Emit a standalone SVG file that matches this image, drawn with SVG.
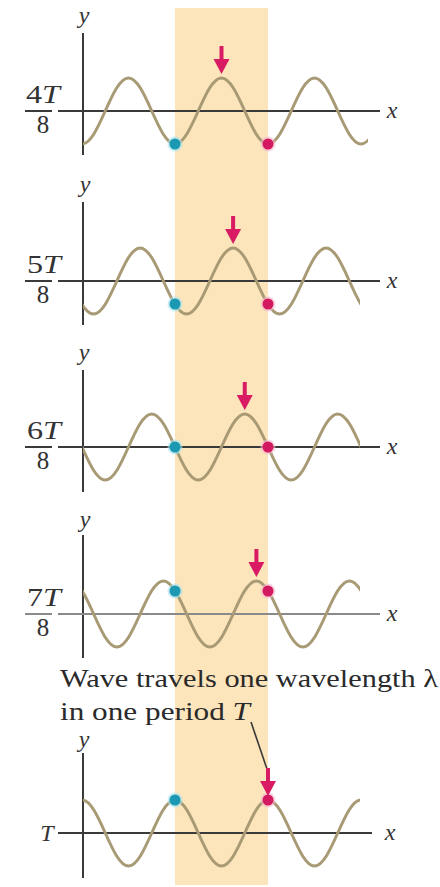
<svg xmlns="http://www.w3.org/2000/svg" xmlns:xlink="http://www.w3.org/1999/xlink" width="440" height="887" viewBox="0 0 440 887">
<style>
.axis{stroke:#3a3a3a;stroke-width:2;fill:none}
.axisg{stroke:#8a8a8a;stroke-width:2;fill:none}
.wave{stroke:#a89a74;stroke-width:3;fill:none}
.lbl{font-family:"Liberation Serif","Times New Roman",Times,serif;font-style:italic;font-size:24px;fill:#333}
.num{font-family:"Liberation Serif","Times New Roman",Times,serif;font-size:25px;fill:#333}
.cap{font-family:"Liberation Serif","Times New Roman",Times,serif;font-size:26px;fill:#2a2a2a}
.bg{fill:#f5b7cf;opacity:0.6}
.bb{fill:#a3e3ef;opacity:0.6}
.blue{fill:#1b98b2}
.pink{fill:#d3195f}
.arr{fill:#d81b62}
</style>
<defs>
<path id="wave" d="M -186 33 C -169.1 33 -156.4 -33 -139.5 -33 S -109.9 33 -93 33 S -63.4 -33 -46.5 -33 S -16.9 33 0 33 S 29.6 -33 46.5 -33 S 76.1 33 93 33 S 122.6 -33 139.5 -33 S 169.1 33 186 33 S 215.6 -33 232.5 -33 S 262.1 33 279 33 S 308.6 -33 325.5 -33 S 355.1 33 372 33 S 401.6 -33 418.5 -33 S 448.1 33 465 33"/>
<g id="arrow">
<rect x="-2" y="-28" width="4" height="16" class="arr"/>
<path d="M -8 -15 L 8 -15 L 0 0 Z" class="arr"/>
</g>
<clipPath id="c1" clipPathUnits="userSpaceOnUse"><rect x="83" y="0" width="285" height="887"/></clipPath>
<clipPath id="c2" clipPathUnits="userSpaceOnUse"><rect x="83" y="0" width="277" height="887"/></clipPath>
</defs>
<rect width="440" height="887" fill="#ffffff"/>
<rect id="band" x="175" y="8" width="93" height="877" fill="#fce4bb"/>

<g id="panel-1">
<line class="axis" x1="83" y1="33" x2="83" y2="155"/>
<line class="axis" x1="58" y1="111" x2="380" y2="111"/>
<line class="axis" x1="25" y1="111" x2="52" y2="111"/>
<g clip-path="url(#c1)"><use xlink:href="#wave" href="#wave" class="wave" transform="translate(175,111)"/></g>
<circle class="bb" cx="175" cy="144" r="7.5"/><circle class="blue" cx="175" cy="144" r="5.5"/>
<circle class="bg" cx="268" cy="144" r="7.5"/><circle class="pink" cx="268" cy="144" r="5.5"/>
<use xlink:href="#arrow" href="#arrow" transform="translate(221.5,74)"/>
<text class="lbl" x="84" y="23" text-anchor="middle">y</text>
<text class="lbl" x="392" y="118" text-anchor="middle">x</text>
<text class="num" x="26" y="103" textLength="34" lengthAdjust="spacingAndGlyphs">4<tspan font-style="italic">T</tspan></text>
<text class="num" x="43" y="133" text-anchor="middle">8</text>
</g>

<g id="panel-2">
<line class="axis" x1="83" y1="202" x2="83" y2="325"/>
<line class="axis" x1="58" y1="281" x2="380" y2="281"/>
<line class="axis" x1="25" y1="281" x2="52" y2="281"/>
<g clip-path="url(#c2)"><use xlink:href="#wave" href="#wave" class="wave" transform="translate(186.6,281)"/></g>
<circle class="bb" cx="175" cy="304" r="7.5"/><circle class="blue" cx="175" cy="304" r="5.5"/>
<circle class="bg" cx="268" cy="304" r="7.5"/><circle class="pink" cx="268" cy="304" r="5.5"/>
<use xlink:href="#arrow" href="#arrow" transform="translate(233.1,244)"/>
<text class="lbl" x="85" y="192" text-anchor="middle">y</text>
<text class="lbl" x="392" y="288" text-anchor="middle">x</text>
<text class="num" x="27" y="273" textLength="34" lengthAdjust="spacingAndGlyphs">5<tspan font-style="italic">T</tspan></text>
<text class="num" x="43" y="303" text-anchor="middle">8</text>
</g>

<g id="panel-3">
<line class="axis" x1="83" y1="370" x2="83" y2="492"/>
<line class="axis" x1="58" y1="447" x2="380" y2="447"/>
<line class="axis" x1="25" y1="447" x2="52" y2="447"/>
<g clip-path="url(#c2)"><use xlink:href="#wave" href="#wave" class="wave" transform="translate(198.25,447)"/></g>
<circle class="bb" cx="175" cy="447" r="7.5"/><circle class="blue" cx="175" cy="447" r="5.5"/>
<circle class="bg" cx="268" cy="447" r="7.5"/><circle class="pink" cx="268" cy="447" r="5.5"/>
<use xlink:href="#arrow" href="#arrow" transform="translate(244.75,410)"/>
<text class="lbl" x="84" y="360" text-anchor="middle">y</text>
<text class="lbl" x="392" y="454" text-anchor="middle">x</text>
<text class="num" x="27" y="439" textLength="34" lengthAdjust="spacingAndGlyphs">6<tspan font-style="italic">T</tspan></text>
<text class="num" x="43" y="469" text-anchor="middle">8</text>
</g>

<g id="panel-4">
<line class="axis" x1="83" y1="535" x2="83" y2="658"/>
<line class="axisg" x1="58" y1="614" x2="380" y2="614"/>
<line class="axisg" x1="25" y1="614" x2="52" y2="614"/>
<g clip-path="url(#c2)"><use xlink:href="#wave" href="#wave" class="wave" transform="translate(209.9,614)"/></g>
<circle class="bb" cx="175" cy="591" r="7.5"/><circle class="blue" cx="175" cy="591" r="5.5"/>
<circle class="bg" cx="268" cy="591" r="7.5"/><circle class="pink" cx="268" cy="591" r="5.5"/>
<use xlink:href="#arrow" href="#arrow" transform="translate(256.4,577)"/>
<text class="lbl" x="85" y="527" text-anchor="middle">y</text>
<text class="lbl" x="392" y="621" text-anchor="middle">x</text>
<text class="num" x="27" y="606" textLength="34" lengthAdjust="spacingAndGlyphs">7<tspan font-style="italic">T</tspan></text>
<text class="num" x="43" y="636" text-anchor="middle">8</text>
</g>

<g id="caption">
<text class="cap" x="60" y="687" textLength="378" lengthAdjust="spacingAndGlyphs">Wave travels one wavelength λ</text>
<text class="cap" x="60" y="720" textLength="190" lengthAdjust="spacingAndGlyphs">in one period <tspan font-style="italic">T</tspan></text>
</g>

<g id="connectors">
<line x1="251" y1="722" x2="268" y2="772" stroke="#3a3a3a" stroke-width="1.6"/>
</g>

<g id="panel-5">
<line class="axis" x1="83" y1="753" x2="83" y2="878"/>
<line class="axis" x1="58" y1="833" x2="372" y2="833"/>
<g clip-path="url(#c2)"><use xlink:href="#wave" href="#wave" class="wave" transform="translate(221.5,833)"/></g>
<circle class="bb" cx="175" cy="800" r="7.5"/><circle class="blue" cx="175" cy="800" r="5.5"/>
<circle class="bg" cx="268" cy="800" r="7.5"/><circle class="pink" cx="268" cy="800" r="5.5"/>
<use xlink:href="#arrow" href="#arrow" transform="translate(268,796)"/>
<text class="lbl" x="84" y="747" text-anchor="middle">y</text>
<text class="lbl" x="390" y="840" text-anchor="middle">x</text>
<text class="lbl" x="47" y="841" text-anchor="middle" font-size="25">T</text>
</g>
</svg>
